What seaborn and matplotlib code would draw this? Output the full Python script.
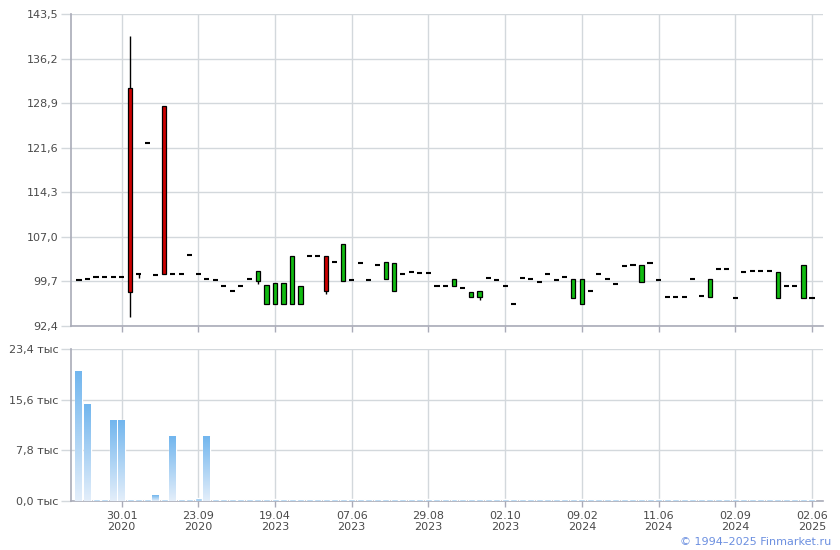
import numpy as np
import matplotlib
matplotlib.use("Agg")
import matplotlib.pyplot as plt
import seaborn as sns

# candle data, one per trading day (index on x axis)
opens = [99.9, 100.1, 100.4, 100.4, 100.4, 100.4, 131.3, 100.9, 122.3, 100.7,
         128.5, 100.9, 100.9, 104.0, 100.9, 100.1, 99.9, 98.9, 98.1, 98.9,
         100.1, 99.8, 96.0, 96.0, 96.0, 96.0, 96.0, 103.8, 103.8, 103.8,
         102.8, 99.7, 99.9, 102.7, 99.9, 102.4, 100.05, 98.1, 100.9, 101.2,
         101.05, 101.05, 98.9, 98.9, 98.9, 98.6, 97.1, 97.1, 100.2, 99.9,
         98.9, 95.95, 100.2, 100.05, 99.55, 100.9, 99.9, 100.4, 96.95, 95.95,
         98.1, 100.9, 100.05, 99.2, 102.2, 102.35, 99.55, 102.7, 99.9, 97.1,
         97.1, 97.1, 100.05, 97.3, 97.1, 101.7, 101.7, 96.95, 101.2, 101.35,
         101.35, 101.35, 96.95, 98.9, 98.9, 96.95, 96.95]
closes = [99.9, 100.1, 100.4, 100.4, 100.4, 100.4, 97.9, 100.9, 122.3, 100.7,
          100.9, 100.9, 100.9, 104.0, 100.9, 100.1, 99.9, 98.9, 98.1, 98.9,
          100.1, 101.35, 99.1, 99.4, 99.4, 103.8, 98.9, 103.8, 103.8, 98.2,
          102.8, 105.9, 99.9, 102.7, 99.9, 102.4, 102.8, 102.7, 100.9, 101.2,
          101.05, 101.05, 98.9, 98.9, 100.05, 98.6, 97.9, 98.1, 100.2, 99.9,
          98.9, 95.95, 100.2, 100.05, 99.55, 100.9, 99.9, 100.4, 100.05, 100.05,
          98.1, 100.9, 100.05, 99.2, 102.2, 102.35, 102.35, 102.7, 99.9, 97.1,
          97.1, 97.1, 100.05, 97.3, 100.05, 101.7, 101.7, 96.95, 101.2, 101.35,
          101.35, 101.35, 101.2, 98.9, 98.9, 102.35, 96.95]
highs = [max(o, c) for o, c in zip(opens, closes)]
highs[6] = 139.9
lows = [min(o, c) for o, c in zip(opens, closes)]
lows[6] = 93.9
lows[7] = 100.3
lows[21] = 99.3
lows[29] = 97.6
lows[47] = 96.7

# volume, thousands
volume = [20.0, 14.9, 0.3, 0.3, 12.45, 12.45, 0.3, 0.3, 0.3, 0.9,
          0.3, 10.0, 0.3, 0.3, 0.4, 10.0] + [0.3] * 71

tick_pos = [5, 14, 23, 32, 41, 50, 59, 68, 77, 86]
tick_labels = ["30.01\n2020", "23.09\n2020", "19.04\n2023", "07.06\n2023",
               "29.08\n2023", "02.10\n2023", "09.02\n2024", "11.06\n2024",
               "02.09\n2024", "02.06\n2025"]
price_ticks = [92.4, 99.7, 107.0, 114.3, 121.6, 128.9, 136.2, 143.5]
vol_ticks = [0.0, 7.8, 15.6, 23.4]

sns.set_style("white")
plt.rcParams["font.family"] = ["DejaVu Sans"]

grid_c = "#d3d8dc"
spine_c = "#a9abb8"
text_c = "#4a4a4a"

fig = plt.figure(figsize=(8.4, 5.5), dpi=100)
ax1 = fig.add_axes([0.0845, 0.4073, 0.895, 0.5673])
ax2 = fig.add_axes([0.0845, 0.0891, 0.895, 0.2764])
xlim = (-0.94, 87.27)

# price panel
idx = np.arange(len(opens))
ax1.vlines(idx, lows, highs, color="black", lw=1, zorder=3)
for i in idx:
    o, c = opens[i], closes[i]
    if o == c:
        ax1.hlines(o, i - 0.3, i + 0.3, color="black", lw=1.5, zorder=4)
    else:
        col = "#11bb11" if c > o else "#cc0000"
        ax1.bar(i, abs(c - o), bottom=min(o, c), width=0.5, color=col,
                edgecolor="black", lw=0.9, zorder=4)
ax1.set_xlim(*xlim)
ax1.set_ylim(92.4, 143.5)
ax1.set_yticks(price_ticks)
ax1.set_yticklabels([f"{v:.1f}".replace(".", ",") for v in price_ticks])
ax1.set_xticks(tick_pos)
ax1.set_xticklabels([])

# volume panel
sns.barplot(x=list(idx), y=volume, color="#94c6f0", width=0.82, ax=ax2,
            saturation=1, zorder=3)
grad = np.linspace(0, 1, 100).reshape(-1, 1)
cmap = matplotlib.colors.LinearSegmentedColormap.from_list("v", ["#e3eefa", "#72b6ee"])
for p in ax2.patches:
    x0, w, h = p.get_x(), p.get_width(), p.get_height()
    if h < 0.5:
        continue
    im = ax2.imshow(grad, extent=[x0, x0 + w, 0, h], origin="lower", aspect="auto",
                    cmap=cmap, zorder=4)
    im.set_clip_path(p)
ax2.set_xlim(*xlim)
ax2.set_ylim(0, 23.4)
ax2.set_yticks(vol_ticks)
ax2.set_yticklabels([f"{v:.1f} тыс".replace(".", ",") for v in vol_ticks])
ax2.set_xticks(tick_pos)
ax2.set_xticklabels(tick_labels)

for ax in (ax1, ax2):
    ax.grid(True, color=grid_c, lw=1, zorder=0)
    ax.set_axisbelow(True)
    for s in ("top", "right"):
        ax.spines[s].set_visible(False)
    for s in ("left", "bottom"):
        ax.spines[s].set_color(spine_c)
        ax.spines[s].set_linewidth(1.2)
        ax.spines[s].set_zorder(2)
    ax.tick_params(axis="y", length=7, width=1, color=grid_c, pad=2,
                   labelsize=8, labelcolor=text_c, left=True)
    ax.tick_params(axis="x", length=4, width=1, color=spine_c, pad=3,
                   labelsize=8, labelcolor=text_c, bottom=True)
    ax.set_xlabel("")

fig.text(0.989, 0.0145, "© 1994–2025 Finmarket.ru", ha="right", va="center",
         color="#6b8fe0", fontsize=8)

fig.savefig("out.png", dpi=100)
